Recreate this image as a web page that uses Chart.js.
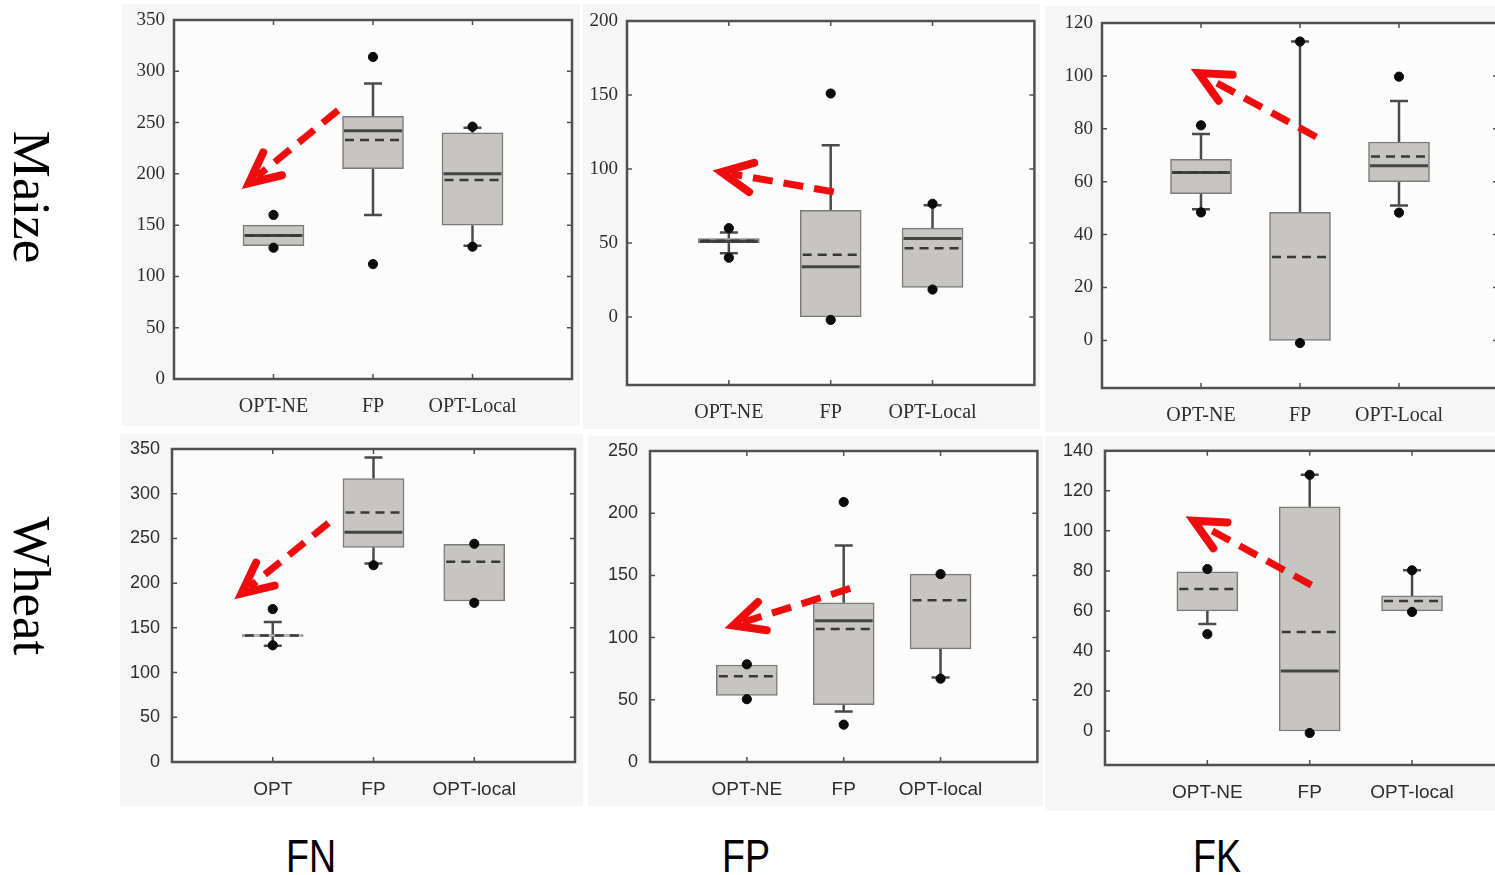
<!DOCTYPE html>
<html>
<head>
<meta charset="utf-8">
<script src="https://cdn.jsdelivr.net/npm/chart.js@4.4.1/dist/chart.umd.min.js"></script>
<style>
  html, body { margin: 0; padding: 0; background: #fff; overflow: hidden; width: 1495px; height: 875px; position: relative; }
  canvas { position: absolute; background: #f6f6f6; }
  .row { position: absolute; font-family: 'Liberation Serif', serif; font-size: 53px; line-height: 1; white-space: nowrap;
         transform: translate(-50%, -50%) rotate(90deg); color: #000; }
  .col { position: absolute; font-family: 'Liberation Sans', sans-serif; font-size: 47px; line-height: 1; white-space: nowrap;
         transform: translateX(-50%) scaleX(0.8); color: #000; }
</style>
</head>
<body>
<canvas id="p1" width="458" height="422" style="left:122px;top:4px"></canvas>
<canvas id="p2" width="457" height="425" style="left:583px;top:4px"></canvas>
<canvas id="p3" width="470" height="426" style="left:1045px;top:6px"></canvas>
<canvas id="p4" width="463" height="372" style="left:120px;top:434px"></canvas>
<canvas id="p5" width="455" height="370" style="left:588px;top:436px"></canvas>
<canvas id="p6" width="475" height="375" style="left:1045px;top:436px"></canvas>

<div class="row" style="left:31px;top:197px">Maize</div>
<div class="row" style="left:31px;top:586px">Wheat</div>
<div class="col" style="left:311px;top:832px">FN</div>
<div class="col" style="left:746px;top:832px">FP</div>
<div class="col" style="left:1217px;top:832px">FK</div>

<script>
// ---- Maize, FN ----
const maizeFnLabels = ['OPT-NE', 'FP', 'OPT-Local'];
const maizeFnQ1 = [130, 205, 150];
const maizeFnQ3 = [150, 256, 240];
const maizeFnMedian = [140, 242, 200];
const maizeFnMean = [140, 233, 194];
const maizeFnLo = [null, 160, 130];
const maizeFnHi = [null, 288, 245];
const maizeFnOutliers = [[160, 128], [314, 112], [246, 129]];
const maizeFnTicks = [0, 50, 100, 150, 200, 250, 300, 350];
const maizeFnArrow = [[1.65, 262], [0.69, 186]];

// ---- Maize, FP ----
const maizeFpLabels = ['OPT-NE', 'FP', 'OPT-Local'];
const maizeFpQ1 = [50, 0, 20];
const maizeFpQ3 = [53, 72, 60];
const maizeFpMedian = [51, 34, 53];
const maizeFpMean = [51.5, 42, 46.5];
const maizeFpLo = [43, null, null];
const maizeFpHi = [57, 116, 75.5];
const maizeFpOutliers = [[60, 40], [151, -2], [76.5, 18.5]];
const maizeFpTicks = [0, 50, 100, 150, 200];
const maizeFpArrow = [[2.03, 84.5], [0.85, 98.8]];

// ---- Maize, FK ----
const maizeFkLabels = ['OPT-NE', 'FP', 'OPT-Local'];
const maizeFkQ1 = [55.5, 0, 60];
const maizeFkQ3 = [68.5, 48.4, 75];
const maizeFkMedian = [63.5, null, 66];
const maizeFkMean = [63.5, 31.5, 69.5];
const maizeFkLo = [49.6, null, 51];
const maizeFkHi = [78, 113, 90.5];
const maizeFkOutliers = [[81.3, 48.4], [113, -1], [99.7, 48.3]];
const maizeFkTicks = [0, 20, 40, 60, 80, 100, 120];
const maizeFkArrow = [[2.165, 76.9], [0.906, 102.5]];

// ---- Wheat, FN ----
const wheatFnLabels = ['OPT', 'FP', 'OPT-local'];
const wheatFnQ1 = [140.5, 240, 180];
const wheatFnQ3 = [142.5, 317, 243.5];
const wheatFnMedian = [null, 257, null];
const wheatFnMean = [141.5, 279, 224];
const wheatFnLo = [130, 222, null];
const wheatFnHi = [156.5, 340.5, null];
const wheatFnOutliers = [[171, 130.5], [220], [244, 178]];
const wheatFnTicks = [0, 50, 100, 150, 200, 250, 300, 350];
const wheatFnArrow = [[1.554, 267.2], [0.628, 182.9]];

// ---- Wheat, FP ----
const wheatFpLabels = ['OPT-NE', 'FP', 'OPT-local'];
const wheatFpQ1 = [53.5, 46, 91];
const wheatFpQ3 = [78, 128, 151];
const wheatFpMedian = [null, 113.6, null];
const wheatFpMean = [69, 107, 130];
const wheatFpLo = [null, 40.5, 68];
const wheatFpHi = [null, 174, null];
const wheatFpOutliers = [[78.5, 50.5], [209, 30], [151, 67]];
const wheatFpTicks = [0, 50, 100, 150, 200, 250];
const wheatFpArrow = [[2.067, 139.5], [0.78, 107.9]];

// ---- Wheat, FK ----
const wheatFkLabels = ['OPT-NE', 'FP', 'OPT-local'];
const wheatFkQ1 = [60, 0, 60];
const wheatFkQ3 = [79.5, 112, 67.5];
const wheatFkMedian = [null, 30, null];
const wheatFkMean = [71, 49.5, 65];
const wheatFkLo = [53.4, null, null];
const wheatFkHi = [null, 128, 80.3];
const wheatFkOutliers = [[80.9, 48.4], [128, -1], [80.3, 59.5]];
const wheatFkTicks = [0, 20, 40, 60, 80, 100, 120, 140];
const wheatFkArrow = [[2.017, 72.9], [0.797, 107]];

// whiskers, medians, means, frame and the red arrow
function boxExtras(p) {
  return {
    id: 'boxExtras',
    beforeDatasetsDraw(chart) {
      const { ctx, chartArea: a, scales: { x, y } } = chart;
      ctx.save();
      ctx.fillStyle = '#fcfcfc';
      ctx.fillRect(a.left, a.top, a.right - a.left, a.bottom - a.top);
      ctx.strokeStyle = '#4a4a4a';
      ctx.lineWidth = 2.5;
      p.labels.forEach((_, i) => {
        const cx = x.getPixelForValue(i + 1);
        [[p.lo[i], p.q1[i]], [p.hi[i], p.q3[i]]].forEach(([end, edge]) => {
          if (end == null) return;
          const ye = y.getPixelForValue(end);
          ctx.beginPath();
          ctx.moveTo(cx, y.getPixelForValue(edge));
          ctx.lineTo(cx, ye);
          ctx.moveTo(cx - 9, ye);
          ctx.lineTo(cx + 9, ye);
          ctx.stroke();
        });
      });
      ctx.restore();
    },
    afterDatasetsDraw(chart) {
      const { ctx, chartArea: a, scales: { x, y } } = chart;
      ctx.save();
      p.labels.forEach((_, i) => {
        const cx = x.getPixelForValue(i + 1);
        if (p.median[i] != null) {
          const ym = y.getPixelForValue(p.median[i]);
          ctx.strokeStyle = '#444';
          ctx.lineWidth = 3;
          ctx.setLineDash([]);
          ctx.beginPath(); ctx.moveTo(cx - 29, ym); ctx.lineTo(cx + 29, ym); ctx.stroke();
        }
        if (p.mean[i] != null) {
          const ym = y.getPixelForValue(p.mean[i]);
          ctx.strokeStyle = '#383838';
          ctx.lineWidth = 2.5;
          ctx.setLineDash([9, 6]);
          ctx.beginPath(); ctx.moveTo(cx - 28, ym); ctx.lineTo(cx + 29, ym); ctx.stroke();
        }
      });
      ctx.setLineDash([]);

      // frame + small inner ticks
      ctx.strokeStyle = '#505050';
      ctx.lineWidth = 2.5;
      ctx.strokeRect(a.left, a.top, a.right - a.left, a.bottom - a.top);
      ctx.lineWidth = 1.5;
      ctx.beginPath();
      p.ticks.forEach(v => {
        const py = y.getPixelForValue(v);
        ctx.moveTo(a.left, py); ctx.lineTo(a.left + 5, py);
        ctx.moveTo(a.right, py); ctx.lineTo(a.right - 5, py);
      });
      p.labels.forEach((_, i) => {
        const px = x.getPixelForValue(i + 1);
        ctx.moveTo(px, a.bottom); ctx.lineTo(px, a.bottom - 5);
        ctx.moveTo(px, a.top); ctx.lineTo(px, a.top + 5);
      });
      ctx.stroke();

      // red dashed arrow
      const [[fx, fy], [tx, ty]] = p.arrow;
      const x0 = x.getPixelForValue(fx), y0 = y.getPixelForValue(fy);
      let x1 = x.getPixelForValue(tx), y1 = y.getPixelForValue(ty);
      const ang = Math.atan2(y1 - y0, x1 - x0);
      x1 -= 8 * Math.cos(ang); y1 -= 8 * Math.sin(ang);
      ctx.strokeStyle = '#f00c0c';
      ctx.lineWidth = 7;
      ctx.setLineDash([20, 11]);
      ctx.lineCap = 'butt';
      ctx.beginPath();
      ctx.moveTo(x0, y0);
      ctx.lineTo(x1 - 10 * Math.cos(ang), y1 - 10 * Math.sin(ang));
      ctx.stroke();
      ctx.setLineDash([]);
      ctx.lineCap = 'round';
      ctx.lineJoin = 'miter';
      ctx.lineWidth = 8;
      const h = 34, spread = 0.45;
      ctx.beginPath();
      ctx.moveTo(x1 - h * Math.cos(ang - spread), y1 - h * Math.sin(ang - spread));
      ctx.lineTo(x1, y1);
      ctx.lineTo(x1 - h * Math.cos(ang + spread), y1 - h * Math.sin(ang + spread));
      ctx.stroke();
      ctx.restore();
    }
  };
}

function boxPanel(id, p) {
  const cats = ['', ...p.labels, ''];
  const boxes = [null, ...p.q1.map((v, i) => [v, p.q3[i]]), null];
  const dots = [];
  p.outliers.forEach((list, i) => list.forEach(v => dots.push({ x: p.labels[i], y: v })));
  const family = p.serif ? 'Liberation Serif' : 'Liberation Sans';

  new Chart(document.getElementById(id), {
    type: 'bar',
    data: {
      labels: cats,
      datasets: [
        { type: 'scatter', data: dots, backgroundColor: '#0a0a0a', borderColor: '#0a0a0a', pointRadius: 4.6, order: 0 },
        { data: boxes, backgroundColor: '#c7c5c1', borderColor: '#7a7a7a', borderWidth: 1.5,
          borderSkipped: false, barThickness: 61, order: 1 }
      ]
    },
    options: {
      animation: false,
      responsive: false,
      devicePixelRatio: 1,
      layout: { padding: p.pad },
      plugins: { legend: { display: false }, tooltip: { enabled: false } },
      scales: {
        x: {
          offset: false,
          grid: { display: false, tickLength: p.serif ? 16 : 16 },
          border: { display: false },
          ticks: { autoSkip: false, maxRotation: 0, padding: 0, color: '#2e2e2e',
                   font: { family, size: p.serif ? 20 : 19 } },
          afterFit: s => { s.height = p.xHeight; }
        },
        y: {
          min: p.min,
          max: p.max,
          grid: { display: false, tickLength: 8 },
          border: { display: false },
          afterBuildTicks: s => { s.ticks = p.ticks.map(v => ({ value: v })); },
          ticks: { padding: p.serif ? 1 : 4, color: '#2e2e2e', font: { family, size: p.serif ? 19 : 18 } },
          afterFit: s => { s.width = p.yWidth; }
        }
      }
    },
    plugins: [boxExtras(p)]
  });
}

boxPanel('p1', { labels: maizeFnLabels, q1: maizeFnQ1, q3: maizeFnQ3, median: maizeFnMedian, mean: maizeFnMean,
  lo: maizeFnLo, hi: maizeFnHi, outliers: maizeFnOutliers, ticks: maizeFnTicks, arrow: maizeFnArrow,
  min: 0, max: 350, serif: true, yWidth: 52, xHeight: 42, pad: { left: 0, top: 16, right: 8, bottom: 5 } });

boxPanel('p2', { labels: maizeFpLabels, q1: maizeFpQ1, q3: maizeFpQ3, median: maizeFpMedian, mean: maizeFpMean,
  lo: maizeFpLo, hi: maizeFpHi, outliers: maizeFpOutliers, ticks: maizeFpTicks, arrow: maizeFpArrow,
  min: -46, max: 200, serif: true, yWidth: 44, xHeight: 40, pad: { left: 0, top: 17, right: 5, bottom: 4 } });

boxPanel('p3', { labels: maizeFkLabels, q1: maizeFkQ1, q3: maizeFkQ3, median: maizeFkMedian, mean: maizeFkMean,
  lo: maizeFkLo, hi: maizeFkHi, outliers: maizeFkOutliers, ticks: maizeFkTicks, arrow: maizeFkArrow,
  min: -18, max: 120, serif: true, yWidth: 57, xHeight: 40, pad: { left: 0, top: 17, right: 17, bottom: 4 } });

boxPanel('p4', { labels: wheatFnLabels, q1: wheatFnQ1, q3: wheatFnQ3, median: wheatFnMedian, mean: wheatFnMean,
  lo: wheatFnLo, hi: wheatFnHi, outliers: wheatFnOutliers, ticks: wheatFnTicks, arrow: wheatFnArrow,
  min: 0, max: 350, serif: false, yWidth: 52, xHeight: 40, pad: { left: 0, top: 15, right: 8, bottom: 4 } });

boxPanel('p5', { labels: wheatFpLabels, q1: wheatFpQ1, q3: wheatFpQ3, median: wheatFpMedian, mean: wheatFpMean,
  lo: wheatFpLo, hi: wheatFpHi, outliers: wheatFpOutliers, ticks: wheatFpTicks, arrow: wheatFpArrow,
  min: 0, max: 250, serif: false, yWidth: 62, xHeight: 40, pad: { left: 0, top: 15, right: 5, bottom: 4 } });

boxPanel('p6', { labels: wheatFkLabels, q1: wheatFkQ1, q3: wheatFkQ3, median: wheatFkMedian, mean: wheatFkMean,
  lo: wheatFkLo, hi: wheatFkHi, outliers: wheatFkOutliers, ticks: wheatFkTicks, arrow: wheatFkArrow,
  min: -17, max: 140, serif: false, yWidth: 60, xHeight: 42, pad: { left: 0, top: 14, right: 5, bottom: 4 } });
</script>
</body>
</html>
